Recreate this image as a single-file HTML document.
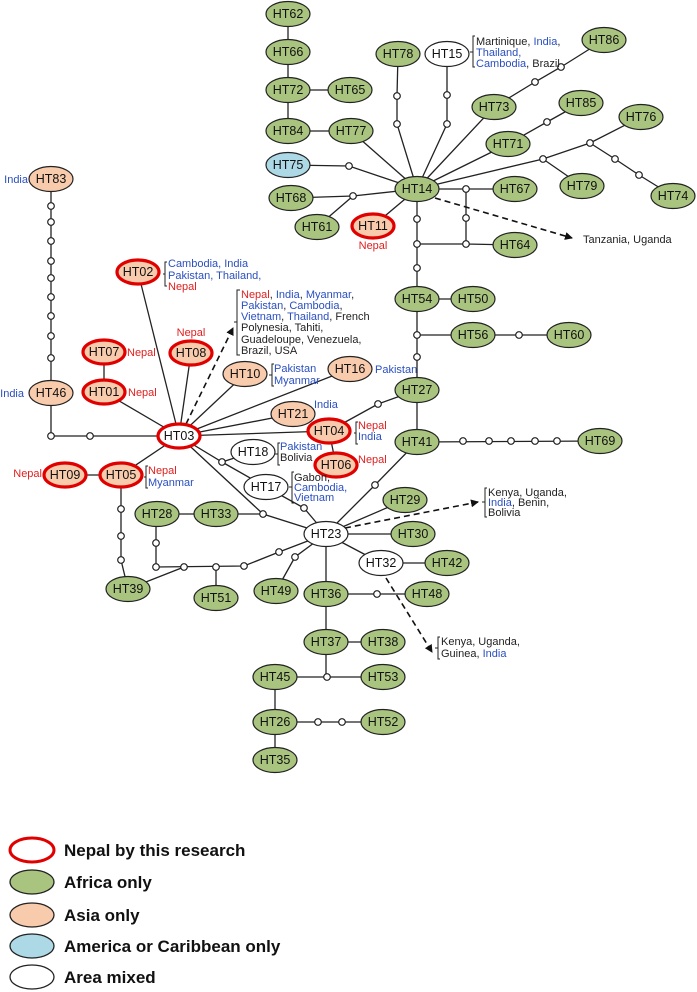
<!DOCTYPE html>
<html><head><meta charset="utf-8"><style>
html,body{margin:0;padding:0;background:#fff;}
svg{display:block;}
text{font-family:"Liberation Sans",Arial,sans-serif;}
.n{font-size:12.5px;fill:#111;text-anchor:middle;dominant-baseline:central;}
.a{font-size:11px;fill:#222;}
.b{fill:#2a4fc0;}
.r{fill:#e02020;}
.g{fill:#a9c47f;stroke:#222;stroke-width:1.2;}
.o{fill:#f8cbad;stroke:#222;stroke-width:1.2;}
.o3{fill:#f8cbad;stroke:#e00000;stroke-width:3.2;}
.w3{fill:#fff;stroke:#e00000;stroke-width:3.2;}
.w{fill:#fff;stroke:#222;stroke-width:1.2;}
.c{fill:#add8e6;stroke:#222;stroke-width:1.2;}
.s{fill:#fff;stroke:#222;stroke-width:1.2;}
.br{fill:none;stroke:#222;stroke-width:1;}
.lg{font-size:17px;font-weight:bold;fill:#111;}
</style></head><body>
<svg width="697" height="992" viewBox="0 0 697 992" xmlns="http://www.w3.org/2000/svg">
<defs><marker id="ah" markerWidth="8" markerHeight="8" refX="7" refY="4" orient="auto" markerUnits="userSpaceOnUse"><path d="M0,0 L8,4 L0,8 Z" fill="#111"/></marker></defs>
<g stroke="#222" stroke-width="1.3" fill="none">
<polyline points="288,14 288,131"/>
<line x1="288" y1="90" x2="350" y2="90"/>
<line x1="288" y1="131" x2="351" y2="131"/>
<line x1="351" y1="131" x2="417" y2="189"/>
<polyline points="288,165 349,166 417,189"/>
<polyline points="291,198 353,196 417,189"/>
<line x1="353" y1="196" x2="317" y2="227"/>
<line x1="373" y1="226" x2="417" y2="189"/>
<polyline points="398,54 397,96 397,124 417,189"/>
<polyline points="447,54 447,95 447,124 417,189"/>
<line x1="494" y1="107" x2="417" y2="189"/>
<polyline points="494,107 535,82 561,67 604,40"/>
<line x1="508" y1="144" x2="417" y2="189"/>
<polyline points="508,144 547,122 581,103"/>
<polyline points="417,189 543,159 590,143 641,117"/>
<line x1="543" y1="159" x2="582" y2="186"/>
<polyline points="590,143 615,159 639,175 673,196"/>
<line x1="417" y1="189" x2="515" y2="189"/>
<polyline points="466,189 466,244 515,245"/>
<polyline points="417,189 417,299"/>
<line x1="417" y1="244" x2="466" y2="244"/>
<line x1="417" y1="299" x2="473" y2="299"/>
<polyline points="417,299 417,442"/>
<polyline points="417,335 569,335"/>
<polyline points="417,442 600,441"/>
<polyline points="417,390 378,404 329,431"/>
<polyline points="417,442 375,485 326,534"/>
<line x1="329" y1="431" x2="336" y2="465"/>
<line x1="179" y1="436" x2="329" y2="431"/>
<line x1="179" y1="436" x2="293" y2="414"/>
<line x1="179" y1="436" x2="350" y2="369"/>
<line x1="179" y1="436" x2="245" y2="374"/>
<line x1="179" y1="436" x2="191" y2="353"/>
<line x1="179" y1="436" x2="138" y2="272"/>
<line x1="179" y1="436" x2="104" y2="392"/>
<line x1="104" y1="352" x2="104" y2="392"/>
<polyline points="179,436 51,436 51,179"/>
<line x1="179" y1="436" x2="121" y2="475"/>
<line x1="65" y1="475" x2="121" y2="475"/>
<polyline points="121,475 121,560 128,589"/>
<polyline points="179,436 222,462 253,452"/>
<line x1="222" y1="462" x2="266" y2="487"/>
<polyline points="266,487 304,508 326,534"/>
<polyline points="179,436 263,514 326,534"/>
<line x1="157" y1="514" x2="263" y2="514"/>
<polyline points="156,514 156,567 244,566 279,552 326,534"/>
<line x1="128" y1="589" x2="184" y2="567"/>
<line x1="216" y1="567" x2="216" y2="598"/>
<polyline points="276,591 295,557 326,534"/>
<line x1="326" y1="534" x2="405" y2="500"/>
<line x1="326" y1="534" x2="413" y2="534"/>
<line x1="326" y1="534" x2="381" y2="563"/>
<line x1="381" y1="563" x2="447" y2="563"/>
<polyline points="326,534 326,677"/>
<line x1="326" y1="594" x2="427" y2="594"/>
<line x1="326" y1="642" x2="383" y2="642"/>
<line x1="275" y1="677" x2="383" y2="677"/>
<polyline points="275,677 275,760"/>
<line x1="275" y1="722" x2="383" y2="722"/>
</g>
<g stroke="#111" stroke-width="1.6" stroke-dasharray="6,4" fill="none" marker-end="url(#ah)">
<line x1="435" y1="198" x2="572" y2="238"/>
<line x1="186" y1="424" x2="233" y2="328"/>
<line x1="345" y1="528" x2="478" y2="502"/>
<line x1="386" y1="578" x2="432" y2="652"/>
</g>
<g class="s">
<circle cx="397" cy="96" r="3.3"/><circle cx="397" cy="124" r="3.3"/>
<circle cx="447" cy="95" r="3.3"/><circle cx="447" cy="124" r="3.3"/>
<circle cx="535" cy="82" r="3.3"/><circle cx="561" cy="67" r="3.3"/>
<circle cx="547" cy="122" r="3.3"/>
<circle cx="543" cy="159" r="3.3"/><circle cx="590" cy="143" r="3.3"/>
<circle cx="615" cy="159" r="3.3"/><circle cx="639" cy="175" r="3.3"/>
<circle cx="349" cy="166" r="3.3"/><circle cx="353" cy="196" r="3.3"/>
<circle cx="466" cy="189" r="3.3"/><circle cx="466" cy="218" r="3.3"/><circle cx="466" cy="244" r="3.3"/>
<circle cx="417" cy="219" r="3.3"/><circle cx="417" cy="244" r="3.3"/><circle cx="417" cy="268" r="3.3"/>
<circle cx="417" cy="335" r="3.3"/><circle cx="417" cy="357" r="3.3"/><circle cx="519" cy="335" r="3.3"/>
<circle cx="463" cy="441" r="3.3"/><circle cx="489" cy="441" r="3.3"/><circle cx="511" cy="441" r="3.3"/><circle cx="535" cy="441" r="3.3"/><circle cx="557" cy="441" r="3.3"/>
<circle cx="378" cy="404" r="3.3"/><circle cx="375" cy="485" r="3.3"/>
<circle cx="51" cy="206" r="3.3"/><circle cx="51" cy="222" r="3.3"/><circle cx="51" cy="241" r="3.3"/><circle cx="51" cy="261" r="3.3"/><circle cx="51" cy="278" r="3.3"/><circle cx="51" cy="297" r="3.3"/><circle cx="51" cy="316" r="3.3"/><circle cx="51" cy="336" r="3.3"/><circle cx="51" cy="358" r="3.3"/>
<circle cx="51" cy="436" r="3.3"/><circle cx="90" cy="436" r="3.3"/>
<circle cx="121" cy="509" r="3.3"/><circle cx="121" cy="536" r="3.3"/><circle cx="121" cy="560" r="3.3"/>
<circle cx="222" cy="462" r="3.3"/><circle cx="304" cy="508" r="3.3"/><circle cx="263" cy="514" r="3.3"/>
<circle cx="156" cy="543" r="3.3"/><circle cx="156" cy="567" r="3.3"/><circle cx="184" cy="567" r="3.3"/><circle cx="216" cy="567" r="3.3"/><circle cx="244" cy="566" r="3.3"/><circle cx="279" cy="552" r="3.3"/>
<circle cx="295" cy="557" r="3.3"/><circle cx="377" cy="594" r="3.3"/>
<circle cx="327" cy="677" r="3.3"/><circle cx="318" cy="722" r="3.3"/><circle cx="342" cy="722" r="3.3"/>
</g>
<!-- nodes -->
<g>
<ellipse class="g" cx="288" cy="14" rx="22" ry="12.5"/><text class="n" x="288" y="14">HT62</text>
<ellipse class="g" cx="288" cy="52" rx="22" ry="12.5"/><text class="n" x="288" y="52">HT66</text>
<ellipse class="g" cx="288" cy="90" rx="22" ry="12.5"/><text class="n" x="288" y="90">HT72</text>
<ellipse class="g" cx="350" cy="90" rx="22" ry="12.5"/><text class="n" x="350" y="90">HT65</text>
<ellipse class="g" cx="288" cy="131" rx="22" ry="12.5"/><text class="n" x="288" y="131">HT84</text>
<ellipse class="g" cx="351" cy="131" rx="22" ry="12.5"/><text class="n" x="351" y="131">HT77</text>
<ellipse class="c" cx="288" cy="165" rx="22" ry="12.5"/><text class="n" x="288" y="165">HT75</text>
<ellipse class="g" cx="291" cy="198" rx="22" ry="12.5"/><text class="n" x="291" y="198">HT68</text>
<ellipse class="g" cx="317" cy="227" rx="22" ry="12.5"/><text class="n" x="317" y="227">HT61</text>
<ellipse class="o3" cx="373" cy="226" rx="21" ry="12"/><text class="n" x="373" y="226">HT11</text>
<ellipse class="g" cx="417" cy="189" rx="22" ry="12.5"/><text class="n" x="417" y="189">HT14</text>
<ellipse class="g" cx="398" cy="54" rx="22" ry="12.5"/><text class="n" x="398" y="54">HT78</text>
<ellipse class="w" cx="447" cy="54" rx="22" ry="12.5"/><text class="n" x="447" y="54">HT15</text>
<ellipse class="g" cx="604" cy="40" rx="22" ry="12.5"/><text class="n" x="604" y="40">HT86</text>
<ellipse class="g" cx="494" cy="107" rx="22" ry="12.5"/><text class="n" x="494" y="107">HT73</text>
<ellipse class="g" cx="581" cy="103" rx="22" ry="12.5"/><text class="n" x="581" y="103">HT85</text>
<ellipse class="g" cx="508" cy="144" rx="22" ry="12.5"/><text class="n" x="508" y="144">HT71</text>
<ellipse class="g" cx="641" cy="117" rx="22" ry="12.5"/><text class="n" x="641" y="117">HT76</text>
<ellipse class="g" cx="582" cy="186" rx="22" ry="12.5"/><text class="n" x="582" y="186">HT79</text>
<ellipse class="g" cx="673" cy="196" rx="22" ry="12.5"/><text class="n" x="673" y="196">HT74</text>
<ellipse class="g" cx="515" cy="189" rx="22" ry="12.5"/><text class="n" x="515" y="189">HT67</text>
<ellipse class="g" cx="515" cy="245" rx="22" ry="12.5"/><text class="n" x="515" y="245">HT64</text>
<ellipse class="g" cx="417" cy="299" rx="22" ry="12.5"/><text class="n" x="417" y="299">HT54</text>
<ellipse class="g" cx="473" cy="299" rx="22" ry="12.5"/><text class="n" x="473" y="299">HT50</text>
<ellipse class="g" cx="473" cy="335" rx="22" ry="12.5"/><text class="n" x="473" y="335">HT56</text>
<ellipse class="g" cx="569" cy="335" rx="22" ry="12.5"/><text class="n" x="569" y="335">HT60</text>
<ellipse class="g" cx="417" cy="390" rx="22" ry="12.5"/><text class="n" x="417" y="390">HT27</text>
<ellipse class="g" cx="417" cy="442" rx="22" ry="12.5"/><text class="n" x="417" y="442">HT41</text>
<ellipse class="g" cx="600" cy="441" rx="22" ry="12.5"/><text class="n" x="600" y="441">HT69</text>
<ellipse class="o" cx="51" cy="179" rx="22" ry="12.5"/><text class="n" x="51" y="179">HT83</text>
<ellipse class="o" cx="51" cy="393" rx="22" ry="12.5"/><text class="n" x="51" y="393">HT46</text>
<ellipse class="o3" cx="138" cy="272" rx="21" ry="12"/><text class="n" x="138" y="272">HT02</text>
<ellipse class="o3" cx="104" cy="352" rx="21" ry="12"/><text class="n" x="104" y="352">HT07</text>
<ellipse class="o3" cx="104" cy="392" rx="21" ry="12"/><text class="n" x="104" y="392">HT01</text>
<ellipse class="o3" cx="191" cy="353" rx="21" ry="12"/><text class="n" x="191" y="353">HT08</text>
<ellipse class="o" cx="245" cy="374" rx="22" ry="12.5"/><text class="n" x="245" y="374">HT10</text>
<ellipse class="o" cx="350" cy="369" rx="22" ry="12.5"/><text class="n" x="350" y="369">HT16</text>
<ellipse class="o" cx="293" cy="414" rx="22" ry="12.5"/><text class="n" x="293" y="414">HT21</text>
<ellipse class="o3" cx="329" cy="431" rx="21" ry="12"/><text class="n" x="329" y="431">HT04</text>
<ellipse class="o3" cx="336" cy="465" rx="21" ry="12"/><text class="n" x="336" y="465">HT06</text>
<ellipse class="w3" cx="179" cy="436" rx="21" ry="12"/><text class="n" x="179" y="436">HT03</text>
<ellipse class="w" cx="253" cy="452" rx="22" ry="12.5"/><text class="n" x="253" y="452">HT18</text>
<ellipse class="w" cx="266" cy="487" rx="22" ry="12.5"/><text class="n" x="266" y="487">HT17</text>
<ellipse class="o3" cx="65" cy="475" rx="21" ry="12"/><text class="n" x="65" y="475">HT09</text>
<ellipse class="o3" cx="121" cy="475" rx="21" ry="12"/><text class="n" x="121" y="475">HT05</text>
<ellipse class="g" cx="157" cy="514" rx="22" ry="12.5"/><text class="n" x="157" y="514">HT28</text>
<ellipse class="g" cx="216" cy="514" rx="22" ry="12.5"/><text class="n" x="216" y="514">HT33</text>
<ellipse class="g" cx="128" cy="589" rx="22" ry="12.5"/><text class="n" x="128" y="589">HT39</text>
<ellipse class="g" cx="216" cy="598" rx="22" ry="12.5"/><text class="n" x="216" y="598">HT51</text>
<ellipse class="g" cx="276" cy="591" rx="22" ry="12.5"/><text class="n" x="276" y="591">HT49</text>
<ellipse class="w" cx="326" cy="534" rx="22" ry="12.5"/><text class="n" x="326" y="534">HT23</text>
<ellipse class="g" cx="405" cy="500" rx="22" ry="12.5"/><text class="n" x="405" y="500">HT29</text>
<ellipse class="g" cx="413" cy="534" rx="22" ry="12.5"/><text class="n" x="413" y="534">HT30</text>
<ellipse class="w" cx="381" cy="563" rx="22" ry="12.5"/><text class="n" x="381" y="563">HT32</text>
<ellipse class="g" cx="447" cy="563" rx="22" ry="12.5"/><text class="n" x="447" y="563">HT42</text>
<ellipse class="g" cx="326" cy="594" rx="22" ry="12.5"/><text class="n" x="326" y="594">HT36</text>
<ellipse class="g" cx="427" cy="594" rx="22" ry="12.5"/><text class="n" x="427" y="594">HT48</text>
<ellipse class="g" cx="326" cy="642" rx="22" ry="12.5"/><text class="n" x="326" y="642">HT37</text>
<ellipse class="g" cx="383" cy="642" rx="22" ry="12.5"/><text class="n" x="383" y="642">HT38</text>
<ellipse class="g" cx="275" cy="677" rx="22" ry="12.5"/><text class="n" x="275" y="677">HT45</text>
<ellipse class="g" cx="383" cy="677" rx="22" ry="12.5"/><text class="n" x="383" y="677">HT53</text>
<ellipse class="g" cx="275" cy="722" rx="22" ry="12.5"/><text class="n" x="275" y="722">HT26</text>
<ellipse class="g" cx="383" cy="722" rx="22" ry="12.5"/><text class="n" x="383" y="722">HT52</text>
<ellipse class="g" cx="275" cy="760" rx="22" ry="12.5"/><text class="n" x="275" y="760">HT35</text>
</g>
<!-- brackets -->
<g class="br">
<path d="M167,262 h-2 v24 h2 M165,274 h-2"/>
<path d="M240,290 h-3 v65 h3 M237,322 h-3"/>
<path d="M274,364 h-2 v22 h2 M272,375 h-3"/>
<path d="M358,422 h-2 v22 h2 M356,433 h-2"/>
<path d="M280,443 h-2 v22 h2 M278,454 h-3"/>
<path d="M294,472 h-2 v31 h2 M292,487 h-3"/>
<path d="M148,466 h-2 v22 h2 M146,477 h-2"/>
<path d="M475,36 h-2 v31 h2 M473,52 h-3"/>
<path d="M487,488 h-2 v29 h2 M485,502 h-3"/>
<path d="M440,637 h-2 v22 h2 M438,648 h-3"/>
</g>
<!-- annotations -->
<g class="a">
<text x="28" y="183" text-anchor="end" class="b">India</text>
<text x="24" y="397" text-anchor="end" class="b">India</text>
<text x="168" y="267"><tspan class="b">Cambodia, India</tspan></text>
<text x="168" y="279"><tspan class="b">Pakistan, Thailand,</tspan></text>
<text x="168" y="290" class="r">Nepal</text>
<text x="241" y="298"><tspan class="r">Nepal</tspan>, <tspan class="b">India</tspan>, <tspan class="b">Myanmar</tspan>,</text>
<text x="241" y="309"><tspan class="b">Pakistan</tspan>, <tspan class="b">Cambodia</tspan>,</text>
<text x="241" y="320"><tspan class="b">Vietnam</tspan>, <tspan class="b">Thailand</tspan>, French</text>
<text x="241" y="331">Polynesia, Tahiti,</text>
<text x="241" y="343">Guadeloupe, Venezuela,</text>
<text x="241" y="354">Brazil, USA</text>
<text x="127" y="356" class="r">Nepal</text>
<text x="128" y="396" class="r">Nepal</text>
<text x="191" y="336" text-anchor="middle" class="r">Nepal</text>
<text x="274" y="372" class="b">Pakistan</text>
<text x="274" y="384" class="b">Myanmar</text>
<text x="375" y="373" class="b">Pakistan</text>
<text x="314" y="408" class="b">India</text>
<text x="358" y="429" class="r">Nepal</text>
<text x="358" y="440" class="b">India</text>
<text x="358" y="463" class="r">Nepal</text>
<text x="280" y="450" class="b">Pakistan</text>
<text x="280" y="461">Bolivia</text>
<text x="294" y="481">Gabon,</text>
<text x="294" y="491" class="b">Cambodia,</text>
<text x="294" y="501" class="b">Vietnam</text>
<text x="42" y="477" text-anchor="end" class="r">Nepal</text>
<text x="148" y="474" class="r">Nepal</text>
<text x="148" y="486" class="b">Myanmar</text>
<text x="373" y="249" text-anchor="middle" class="r">Nepal</text>
<text x="476" y="45">Martinique, <tspan class="b">India</tspan>,</text>
<text x="476" y="56" class="b">Thailand,</text>
<text x="476" y="67"><tspan class="b">Cambodia</tspan>, Brazil</text>
<text x="583" y="243">Tanzania, Uganda</text>
<text x="488" y="496">Kenya, Uganda,</text>
<text x="488" y="506"><tspan class="b">India</tspan>, Benin,</text>
<text x="488" y="516">Bolivia</text>
<text x="441" y="645">Kenya, Uganda,</text>
<text x="441" y="657">Guinea, <tspan class="b">India</tspan></text>
</g>
<!-- legend -->
<ellipse cx="32" cy="850" rx="22" ry="12" fill="#fff" stroke="#e00000" stroke-width="3"/>
<ellipse cx="32" cy="882" rx="22" ry="12" fill="#a9c47f" stroke="#222" stroke-width="1.3"/>
<ellipse cx="32" cy="915" rx="22" ry="12" fill="#f8cbad" stroke="#222" stroke-width="1.3"/>
<ellipse cx="32" cy="946" rx="22" ry="12" fill="#add8e6" stroke="#222" stroke-width="1.3"/>
<ellipse cx="32" cy="977" rx="22" ry="12" fill="#fff" stroke="#222" stroke-width="1.3"/>
<text class="lg" x="64" y="856">Nepal by this research</text>
<text class="lg" x="64" y="888">Africa only</text>
<text class="lg" x="64" y="921">Asia only</text>
<text class="lg" x="64" y="952">America or Caribbean only</text>
<text class="lg" x="64" y="983">Area mixed</text>
</svg>
</body></html>
